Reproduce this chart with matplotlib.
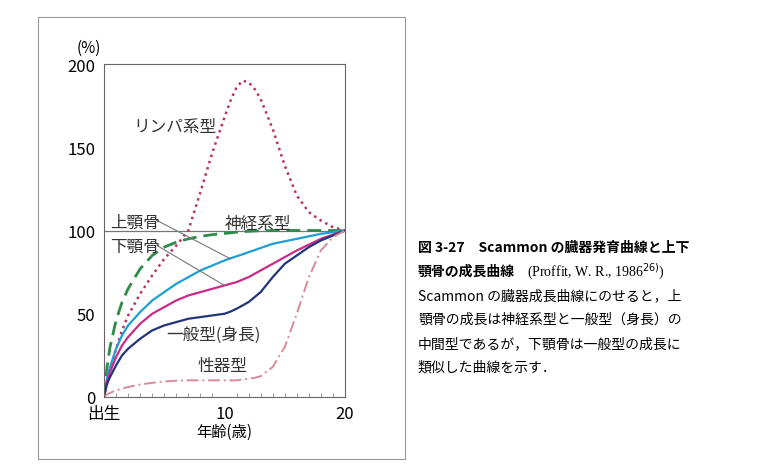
import numpy as np
import matplotlib.pyplot as plt
from matplotlib.patches import Rectangle

plt.rcParams['font.family'] = ['Noto Sans CJK JP', 'DejaVu Sans']

# ====== Data (growth in % of adult size, by age) ======
ages = [0, 0.25, 0.5, 1, 1.5, 2, 3, 4, 5, 6, 7, 8, 9, 10, 10.5, 11, 11.5, 12, 12.5, 13, 14, 15, 16, 17, 18, 19, 20]
lymphoid = [0, 8, 16, 29, 40, 49, 62, 73, 83, 91, 100, 123, 147, 168, 178, 186, 190, 189, 185, 179, 161, 139, 121, 111, 106, 102, 100]
neural = [0, 18, 30, 46, 57, 65, 77, 85, 90, 93, 95, 96.5, 97.5, 98.2, 98.6, 99, 99.3, 99.5, 99.7, 99.8, 100, 100, 100, 100, 100, 100, 100]
maxilla = [0, 11, 18, 29, 37, 43, 51, 58, 63, 68, 72, 76, 79, 82, 83.3, 84.5, 85.7, 87, 88.2, 89.5, 92, 93.5, 95, 96.5, 98, 99, 100]
mandible = [0, 9, 15, 24, 31, 36, 44, 50, 54, 58, 61, 63, 65, 67, 68, 69, 70.5, 72, 74, 76, 80, 84, 88, 91.5, 95, 97.5, 100]
general = [0, 8, 12, 19, 25, 29, 35, 40, 43, 45, 47, 48, 49, 50, 51.3, 53, 55, 57, 60, 63, 72, 80, 85, 90, 94, 97, 100]
genital = [0, 1.5, 2.5, 4, 5, 6, 7.5, 8.5, 9.3, 9.8, 10, 10, 10, 10, 10, 10, 10.5, 11, 11.5, 12.5, 18, 30, 50, 72, 88, 96, 100]

fig = plt.figure(figsize=(7.6, 4.77), dpi=100)
W, H = 760, 477
ax = fig.add_axes([104 / W, 1 - 398 / H, (345 - 104) / W, (398 - 65) / H])

ax.axhline(100, color='#777777', lw=0.9, zorder=1)
ax.plot(ages, lymphoid, color='#b8336a', ls=(0, (1, 1.6)), lw=1.8)
ax.plot(ages, neural, color='#2e8b4a', ls=(0, (5, 2.5)), lw=2)
ax.plot(ages, maxilla, color='#1ca0d4', lw=1.6)
ax.plot(ages, mandible, color='#cc2a8a', lw=1.6)
ax.plot(ages, general, color='#23357a', lw=1.6)
ax.plot(ages, genital, color='#d98a9a', ls=(0, (6, 2, 1, 2)), lw=1.4)

ax.set_xlim(0, 20)
ax.set_ylim(0, 200)
ax.set_xticks([0, 10, 20])
ax.set_xticklabels(['出生', '10', '20'], fontsize=12)
ax.set_xticks(range(21), minor=True)
ax.set_yticks([0, 50, 100, 150, 200])
ax.tick_params(axis='y', labelsize=12, direction='in', length=0, pad=6)
ax.tick_params(axis='x', which='both', direction='in', length=3, color='#888888')
ax.tick_params(axis='x', which='major', length=0, pad=6)
for s in ax.spines.values():
    s.set_color('#666666')
    s.set_linewidth(0.8)
ax.set_xlabel('年齢(歳)', fontsize=11, labelpad=0)
ax.text(-1.3, 205, '(%)', fontsize=11, ha='center', va='bottom')

kw = dict(fontsize=12, color='#333333')
ax.text(2.4, 160, 'リンパ系型', **kw)
ax.text(10, 101.5, '神経系型', **kw)
ax.text(0.5, 102, '上顎骨', **kw)
ax.text(0.5, 88, '下顎骨', **kw)
ax.text(5.2, 35, '一般型(身長)', **kw)
ax.text(7.8, 16, '性器型', **kw)
ax.plot([4.4, 10.5], [106, 83], color='#777777', lw=0.8)
ax.plot([4.4, 10.0], [91, 67], color='#777777', lw=0.8)

# outer frame
fig.patches.append(Rectangle((38 / W, 1 - 460 / H), (405 - 38) / W, (460 - 18) / H,
                             transform=fig.transFigure, fill=False, ec='#999999', lw=0.8))

# caption
fig.text(418 / W, 1 - 248 / H, '図 3-27　Scammon の臓器発育曲線と上下', fontsize=10, weight='bold', va='center')
fig.text(418 / W, 1 - 272 / H, '顎骨の成長曲線', fontsize=10, weight='bold', va='center')
fig.text(527 / W, 1 - 272 / H, '(Proffit, W. R., 1986$^{26)}$)', fontsize=10, family='Liberation Serif', va='center')
cap = ['Scammon の臓器成長曲線にのせると，上',
       '顎骨の成長は神経系型と一般型（身長）の',
       '中間型であるが，下顎骨は一般型の成長に',
       '類似した曲線を示す．']
for i, line in enumerate(cap):
    fig.text(418 / W, 1 - (296 + 24 * i) / H, line, fontsize=10, va='center')

fig.savefig('out.png', dpi=100)
